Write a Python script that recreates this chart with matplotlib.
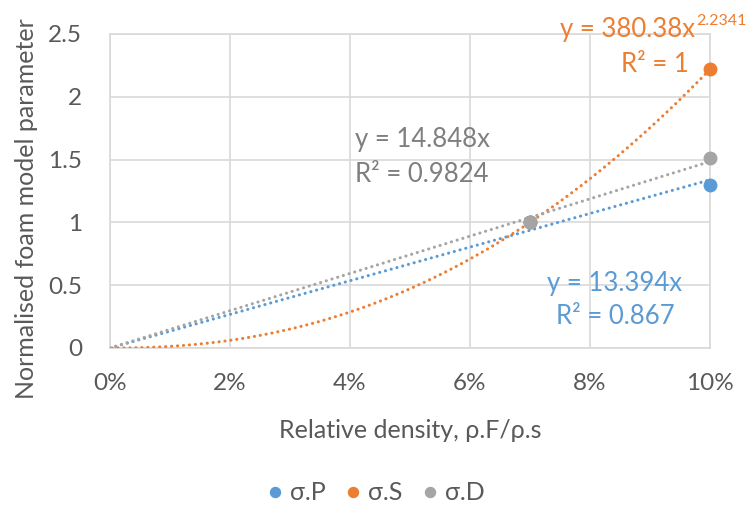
import numpy as np
import matplotlib
matplotlib.use("Agg")
import matplotlib.pyplot as plt
from matplotlib.ticker import FuncFormatter

plt.rcParams['font.family'] = ['Lato', 'DejaVu Sans']

# Data
x_vals = [0.07, 0.10]
sigma_P = [1.0, 1.295]
sigma_S = [1.0, 2.219]
sigma_D = [1.0, 1.512]
series_names = ['σ.P', 'σ.S', 'σ.D']
colors = ['#5B9BD5', '#ED7D31', '#A5A5A5']
text_colors = ['#5B9BD5', '#ED7D31', '#7F7F7F']
x_ticks = [0, 0.02, 0.04, 0.06, 0.08, 0.10]
y_ticks = [0, 0.5, 1, 1.5, 2, 2.5]
eq_P = ['y = 13.394x', 'R² = 0.867']
eq_S = ['y = 380.38x', '2.2341', 'R² = 1']
eq_D = ['y = 14.848x', 'R² = 0.9824']

W, H = 748, 508
fig = plt.figure(figsize=(W/100, H/100), dpi=100)
ax = fig.add_axes([110/W, 1-348/H, 600/W, 314/H])

x = np.array(x_vals)
xs = np.linspace(0.0, 0.10, 300)

# linear fits through origin
def lin0(y):
    y = np.array(y)
    return np.sum(x*y)/np.sum(x*x)

kP = lin0(sigma_P)
kD = lin0(sigma_D)
b, lna = np.polyfit(np.log(x), np.log(sigma_S), 1)
aS = np.exp(lna)

dot = (0, (0.05, 1.9))
kw = dict(lw=2.2, linestyle=dot, dash_capstyle='round', zorder=3)
ax.plot(xs, kP*xs, color=colors[0], **kw)
ax.plot(xs[1:], aS*xs[1:]**b, color=colors[1], **kw)
ax.plot(xs, kD*xs, color=colors[2], **kw)

for ys, c, n in zip([sigma_P, sigma_S, sigma_D], colors, series_names):
    ax.plot(x_vals, ys, 'o', color=c, ms=9, label=n, zorder=4, clip_on=False)

ax.set_xlim(0, 0.10)
ax.set_ylim(0, 2.5)
ax.set_xticks(x_ticks)
ax.set_yticks(y_ticks)
ax.xaxis.set_major_formatter(FuncFormatter(lambda v, p: f"{v*100:.0f}%"))
ax.yaxis.set_major_formatter(FuncFormatter(lambda v, p: f"{v:g}"))
ax.grid(True, color='#D9D9D9', lw=1.2)
ax.set_axisbelow(True)
for s in ax.spines.values():
    s.set_color('#D9D9D9')
    s.set_linewidth(1.2)
ax.tick_params(length=0, labelsize=17.5, colors='#595959')
ax.tick_params(axis='x', pad=18)
ax.tick_params(axis='y', pad=20)

ax.set_xlabel('Relative density, ρ.F/ρ.s', fontsize=18, color='#595959')
ax.set_ylabel('Normalised foam model parameter', fontsize=18, color='#595959')
ax.xaxis.set_label_coords(0.5, (348-430)/314)
ax.yaxis.set_label_coords((27-110)/600, (348-209)/314)
ax.xaxis.label.set_va('center')
ax.yaxis.label.set_va('center')

# equation labels
fs = 18.5
tS = fig.text(560/W, 1-30/H, eq_S[0], fontsize=fs, color=text_colors[1], ha='left', va='center')
fig.canvas.draw()
bb = tS.get_window_extent()
fig.text((bb.x1+1)/W, 1-21/H, eq_S[1], fontsize=11.5, color=text_colors[1], ha='left', va='center')
fig.text(689/W, 1-65/H, eq_S[2], fontsize=fs, color=text_colors[1], ha='right', va='center')
fig.text(355/W, 1-140/H, eq_D[0], fontsize=fs, color=text_colors[2], ha='left', va='center')
fig.text(355/W, 1-174/H, eq_D[1], fontsize=fs, color=text_colors[2], ha='left', va='center')
fig.text(615/W, 1-283/H, eq_P[0], fontsize=fs, color=text_colors[0], ha='center', va='center')
fig.text(615/W, 1-317/H, eq_P[1], fontsize=fs, color=text_colors[0], ha='center', va='center')

fig.legend(loc='center', bbox_to_anchor=(376/W, 1-493/H), ncol=3, frameon=False,
           fontsize=18, labelcolor='#595959', handlelength=0.6, handletextpad=0.3,
           columnspacing=0.8, markerscale=0.8)

fig.savefig('out.png', dpi=100)
